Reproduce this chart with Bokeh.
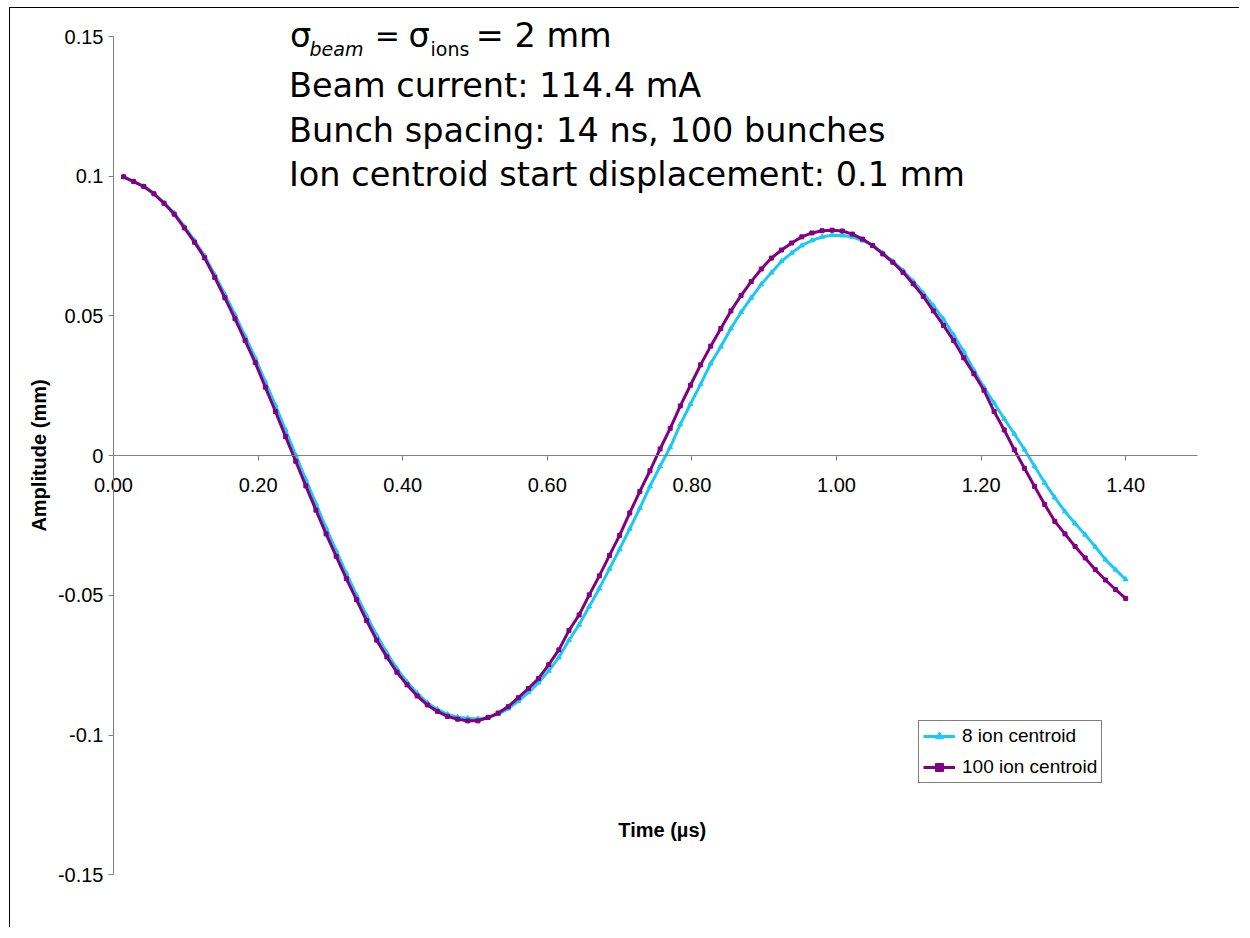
from bokeh.plotting import figure
from bokeh.models import (FixedTicker, Label, Legend, LegendItem, Range1d)
from bokeh.embed import file_html
from bokeh.resources import INLINE

# ---------------- data ----------------
bunch = list(range(1, 101))
bunch_spacing_us = 0.014
time_us = [round(b * bunch_spacing_us, 3) for b in bunch]

ion8 = [
    0.0998, 0.0981, 0.0964, 0.0938, 0.0905, 0.0868, 0.0820, 0.0770, 0.0715, 0.0648,
    0.0578, 0.0505, 0.0428, 0.0350, 0.0265, 0.0180, 0.0092, 0.0002, -0.0085, -0.0172,
    -0.0258, -0.0340, -0.0420, -0.0498, -0.0572, -0.0642, -0.0705, -0.0762, -0.0810, -0.0850,
    -0.0884, -0.0908, -0.0926, -0.0936, -0.0940, -0.0942, -0.0937, -0.0925, -0.0905, -0.0878,
    -0.0847, -0.0812, -0.0770, -0.0722, -0.0660, -0.0605, -0.0540, -0.0475, -0.0405, -0.0335,
    -0.0262, -0.0188, -0.0110, -0.0038, 0.0030, 0.0112, 0.0185, 0.0255, 0.0330, 0.0390,
    0.0455, 0.0513, 0.0565, 0.0613, 0.0655, 0.0696, 0.0725, 0.0752, 0.0770, 0.0783,
    0.0789, 0.0788, 0.0783, 0.0770, 0.0752, 0.0725, 0.0695, 0.0662, 0.0624, 0.0582,
    0.0537, 0.0488, 0.0432, 0.0373, 0.0306, 0.0245, 0.0188, 0.0132, 0.0078, 0.0022,
    -0.0038, -0.0097, -0.0150, -0.0200, -0.0243, -0.0283, -0.0326, -0.0372, -0.0408, -0.0443,
]

ion100 = [
    0.0998, 0.0981, 0.0963, 0.0937, 0.0903, 0.0864, 0.0815, 0.0764, 0.0708, 0.0638,
    0.0565, 0.0490, 0.0412, 0.0333, 0.0245, 0.0158, 0.0068, -0.0020, -0.0108, -0.0195,
    -0.0280, -0.0360, -0.0440, -0.0515, -0.0590, -0.0660, -0.0720, -0.0775, -0.0820, -0.0860,
    -0.0892, -0.0915, -0.0933, -0.0943, -0.0949, -0.0949, -0.0937, -0.0921, -0.0898, -0.0866,
    -0.0833, -0.0797, -0.0748, -0.0695, -0.0625, -0.0570, -0.0498, -0.0430, -0.0357, -0.0285,
    -0.0205, -0.0128, -0.0054, 0.0024, 0.0098, 0.0178, 0.0252, 0.0325, 0.0392, 0.0455,
    0.0518, 0.0573, 0.0623, 0.0668, 0.0707, 0.0736, 0.0761, 0.0783, 0.0797, 0.0805,
    0.0807, 0.0804, 0.0793, 0.0775, 0.0752, 0.0722, 0.0692, 0.0656, 0.0615, 0.0570,
    0.0518, 0.0466, 0.0412, 0.0350, 0.0293, 0.0234, 0.0158, 0.0092, 0.0021, -0.0045,
    -0.0110, -0.0175, -0.0235, -0.0280, -0.0325, -0.0366, -0.0408, -0.0445, -0.0479, -0.0511,
]

x_ticks = [0.0, 0.2, 0.4, 0.6, 0.8, 1.0, 1.2, 1.4]
x_tick_labels = ["0.00", "0.20", "0.40", "0.60", "0.80", "1.00", "1.20", "1.40"]
y_ticks = [-0.15, -0.1, -0.05, 0.0, 0.05, 0.1, 0.15]
y_tick_labels = ["-0.15", "-0.1", "-0.05", "0", "0.05", "0.1", "0.15"]

series_names = ["8 ion centroid", "100 ion centroid"]

# ---------------- figure ----------------
CYAN = "#1ec8f5"
PURPLE = "#800080"
AXIS_GREY = "#808080"
TICK_FONT = "Liberation Sans"
NOTE_FONT = "DejaVu Sans"

# the frame fills the whole canvas; the axes cross at 0 and are bounded
p = figure(width=1230, height=920, output_backend="svg", toolbar_location=None,
           x_range=Range1d(-0.14246, 1.5588), y_range=Range1d(-0.1692, 0.16002),
           min_border=0, min_border_left=0, min_border_right=0,
           min_border_top=0, min_border_bottom=0)
p.styles = {"margin-left": "9px", "margin-top": "7px",
            "border-left": "1px solid black", "border-top": "1px solid black"}
p.outline_line_color = None
p.xgrid.visible = False
p.ygrid.visible = False
p.background_fill_color = "white"
p.border_fill_color = "white"

xa = p.xaxis[0]
xa.fixed_location = 0
xa.bounds = (0, 1.5)
xa.ticker = FixedTicker(ticks=x_ticks)
xa.major_label_overrides = {t: s for t, s in zip(x_ticks, x_tick_labels)}
xa.minor_tick_line_color = None
xa.major_tick_out = 5
xa.major_tick_in = 0
xa.axis_line_color = AXIS_GREY
xa.major_tick_line_color = AXIS_GREY
xa.major_label_text_font = TICK_FONT
xa.major_label_text_font_size = "20px"
xa.major_label_text_color = "black"
xa.major_label_standoff = 17

ya = p.yaxis[0]
ya.fixed_location = 0
ya.bounds = (-0.15, 0.15)
ya.ticker = FixedTicker(ticks=y_ticks)
ya.major_label_overrides = {t: s for t, s in zip(y_ticks, y_tick_labels)}
ya.minor_tick_line_color = None
ya.major_tick_out = 5
ya.major_tick_in = 0
ya.axis_line_color = AXIS_GREY
ya.major_tick_line_color = AXIS_GREY
ya.major_label_text_font = TICK_FONT
ya.major_label_text_font_size = "20px"
ya.major_label_text_color = "black"
ya.major_label_standoff = 5
ya.axis_label = "Amplitude (mm)"
ya.axis_label_text_font = TICK_FONT
ya.axis_label_text_font_style = "bold"
ya.axis_label_text_font_size = "20px"
ya.axis_label_text_color = "black"
ya.axis_label_standoff = 5

# series
l8 = p.line(time_us, ion8, line_color=CYAN, line_width=3)
m8 = p.scatter(time_us, ion8, marker="triangle", size=5, fill_color=CYAN,
               line_color=CYAN)
l100 = p.line(time_us, ion100, line_color=PURPLE, line_width=3)
m100 = p.scatter(time_us, ion100, marker="square", size=4, fill_color=PURPLE,
                 line_color=PURPLE)

legend = Legend(items=[LegendItem(label=series_names[0], renderers=[l8, m8]),
                       LegendItem(label=series_names[1], renderers=[l100, m100])],
                location=(908, 145))
legend.border_line_color = "black"
legend.border_line_width = 1
legend.background_fill_color = "white"
legend.background_fill_alpha = 1
legend.label_text_font = TICK_FONT
legend.label_text_font_size = "19px"
legend.label_text_color = "black"
legend.glyph_width = 32
legend.glyph_height = 20
legend.label_height = 20
legend.spacing = 9
legend.padding = 4
legend.margin = 0
legend.label_standoff = 7
p.add_layout(legend)

# x axis title near the bottom of the chart
p.add_layout(Label(x=0.759, y=-0.134, text="Time (µs)", text_align="center",
                   text_baseline="middle", text_font=TICK_FONT,
                   text_font_style="bold", text_font_size="20px",
                   text_color="black"))

# annotation block
note_x = 0.2427
lines = ["Beam current: 114.4 mA",
         "Bunch spacing: 14 ns, 100 bunches",
         "Ion centroid start displacement: 0.1 mm"]
line_y = [0.1323, 0.1164, 0.1005]
for txt, yy in zip(lines, line_y):
    p.add_layout(Label(x=note_x, y=yy, text=txt, text_font=NOTE_FONT,
                       text_font_size="33.5px", text_color="black",
                       text_baseline="middle"))

# sigma line pieces
pieces = [
    (0.2441, 0.1504, "σ", "normal", "33.5px"),
    (0.2711, 0.1454, "beam", "italic", "19px"),
    (0.3615, 0.1504, "=", "normal", "30px"),
    (0.4080, 0.1504, "σ", "normal", "33.5px"),
    (0.4385, 0.1454, "ions", "normal", "19px"),
    (0.5010, 0.1504, "= 2 mm", "normal", "33.5px"),
]
for xx, yy, txt, style, size in pieces:
    p.add_layout(Label(x=xx, y=yy, text=txt, text_font=NOTE_FONT,
                       text_font_style=style, text_font_size=size,
                       text_color="black", text_baseline="middle"))

open("out.html", "w").write(file_html(p, INLINE))
